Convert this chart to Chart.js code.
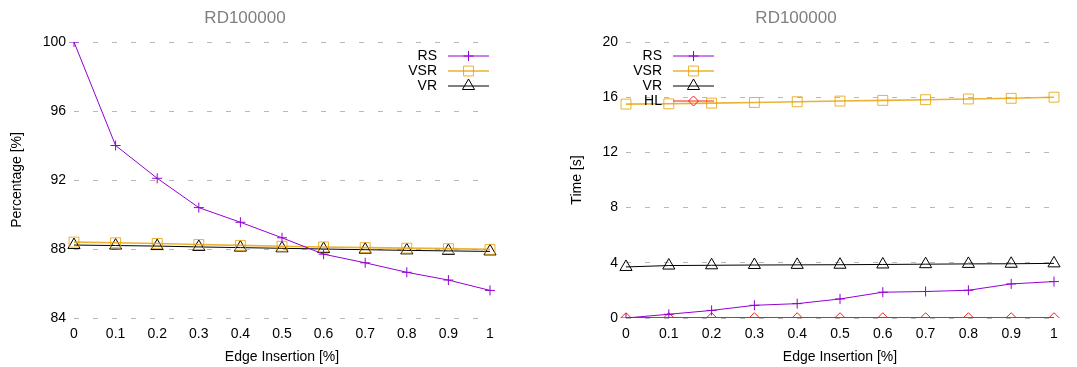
<!DOCTYPE html>
<html>
<head>
<meta charset="utf-8">
<script src="https://cdn.jsdelivr.net/npm/chart.js@4/dist/chart.umd.min.js"></script>
<style>
  html, body { margin: 0; padding: 0; background: #fff; }
  #wrap { position: relative; width: 1077px; height: 367px; }
  canvas { position: absolute; top: 0; }
  #pctChart { left: 0; }
  #timeChart { left: 538px; }
</style>
</head>
<body>
<div id="wrap">
  <canvas id="pctChart" width="538" height="367"></canvas>
  <canvas id="timeChart" width="539" height="367"></canvas>
</div>
<script>
// x categories (edge insertion %)
const insertion = ["0", "0.1", "0.2", "0.3", "0.4", "0.5", "0.6", "0.7", "0.8", "0.9", "1"];

// left panel: percentage [%]
const rsPct  = [100, 94.0, 92.1, 90.4, 89.55, 88.65, 87.7, 87.2, 86.65, 86.2, 85.6];
const vsrPct = [88.4, 88.36, 88.32, 88.26, 88.21, 88.16, 88.12, 88.08, 88.05, 88.02, 87.98];
const vrPct  = [88.23, 88.2, 88.17, 88.12, 88.08, 88.04, 88.0, 87.96, 87.92, 87.89, 87.86];

// right panel: time [s]
const rsTime  = [0, 0.27, 0.55, 0.92, 1.04, 1.38, 1.87, 1.92, 2.01, 2.47, 2.64];
const vsrTime = [15.5, 15.52, 15.57, 15.62, 15.67, 15.72, 15.77, 15.82, 15.87, 15.92, 16.0];
const vrTime  = [3.7, 3.8, 3.82, 3.84, 3.85, 3.86, 3.88, 3.9, 3.92, 3.93, 3.96];
const hlTime  = [0.02, 0.02, 0.02, 0.02, 0.02, 0.02, 0.02, 0.02, 0.02, 0.02, 0.02];

const FONT = "'Liberation Sans', Arial, sans-serif";
Chart.defaults.font.family = FONT;
Chart.defaults.font.size = 14;
Chart.defaults.color = "#000";

// series styles
const styles = {
  RS:  { color: "#9400d3", width: 1,   point: "cross",    radius: 5 },
  VSR: { color: "rgba(230,159,0,0.8)", width: 1.6, point: "rect", radius: 7 },
  VR:  { color: "#000000", width: 1,   point: "triangle", radius: 7 },
  HL:  { color: "#f0201a", width: 1.2, point: "rectRot",  radius: 5 },
};

function series(label, values) {
  const s = styles[label];
  return {
    label: label,
    data: values,
    borderColor: s.color,
    borderWidth: s.width,
    backgroundColor: "transparent",
    pointStyle: s.point,
    pointRadius: s.radius,
    pointBorderColor: s.color,
    pointBackgroundColor: "transparent",
    pointBorderWidth: 1,
    tension: 0,
  };
}

// gnuplot style key: text first, then line sample with the marker
const gnuLegend = {
  id: "gnuLegend",
  afterDatasetsDraw(chart, args, opts) {
    const { ctx, chartArea } = chart;
    const sampleLen = 41;
    const x0 = opts.side === "right"
      ? chartArea.right - opts.inset - sampleLen
      : chartArea.left + opts.inset;
    ctx.save();
    ctx.font = "14px " + FONT;
    ctx.textAlign = "right";
    ctx.textBaseline = "middle";
    chart.data.datasets.forEach((ds, i) => {
      const y = chartArea.top + 14 + i * 15;
      ctx.fillStyle = "#000";
      ctx.fillText(ds.label, x0 - 11, y);
      ctx.strokeStyle = ds.borderColor;
      ctx.lineWidth = ds.borderWidth;
      ctx.beginPath();
      ctx.moveTo(x0, y);
      ctx.lineTo(x0 + sampleLen, y);
      ctx.stroke();
      ctx.lineWidth = 1;
      ctx.fillStyle = "rgba(0,0,0,0)";
      Chart.helpers.drawPoint(ctx, {
        pointStyle: ds.pointStyle,
        radius: ds.pointRadius,
        rotation: 0,
        borderWidth: 1,
      }, x0 + sampleLen / 2, y);
    });
    ctx.restore();
  },
};

function makeOptions(yTitle, yMin, yMax, yAxisWidth, yTitlePad, rightPad, legendOpts) {
  return {
    responsive: false,
    animation: false,
    layout: { padding: { left: 0, right: rightPad, top: 0, bottom: 0 } },
    plugins: {
      legend: { display: false },
      tooltip: { enabled: false },
      title: {
        display: true,
        text: "RD100000",
        color: "#7f7f7f",
        font: { size: 17, weight: "normal" },
        padding: { top: 8, bottom: 13.6 },
      },
      gnuLegend: legendOpts,
    },
    scales: {
      x: {
        type: "category",
        offset: false,
        grid: { display: false, drawTicks: false },
        border: { display: false },
        ticks: { padding: 8, maxRotation: 0, autoSkip: false },
        title: { display: true, text: "Edge Insertion [%]", padding: { top: 4, bottom: 1 } },
        afterFit(scale) { scale.height = 49; },
      },
      y: {
        min: yMin,
        max: yMax,
        grid: { color: "#b8b8b8", lineWidth: 1, drawTicks: false },
        border: { display: false, dash: [5, 14] },
        ticks: { stepSize: 4, padding: 8 },
        title: { display: true, text: yTitle, padding: { top: yTitlePad, bottom: 0 } },
        afterFit(scale) { scale.width = yAxisWidth; },
      },
    },
  };
}

new Chart(document.getElementById("pctChart"), {
  type: "line",
  data: {
    labels: insertion,
    datasets: [series("RS", rsPct), series("VSR", vsrPct), series("VR", vrPct)],
  },
  options: makeOptions("Percentage [%]", 84, 100, 74, 9, 48, { side: "right", inset: 1 }),
  plugins: [gnuLegend],
});

new Chart(document.getElementById("timeChart"), {
  type: "line",
  data: {
    labels: insertion,
    datasets: [series("RS", rsTime), series("VSR", vsrTime), series("VR", vrTime), series("HL", hlTime)],
  },
  options: makeOptions("Time [s]", 0, 20, 88, 31, 23, { side: "left", inset: 47 }),
  plugins: [gnuLegend],
});
</script>
</body>
</html>
